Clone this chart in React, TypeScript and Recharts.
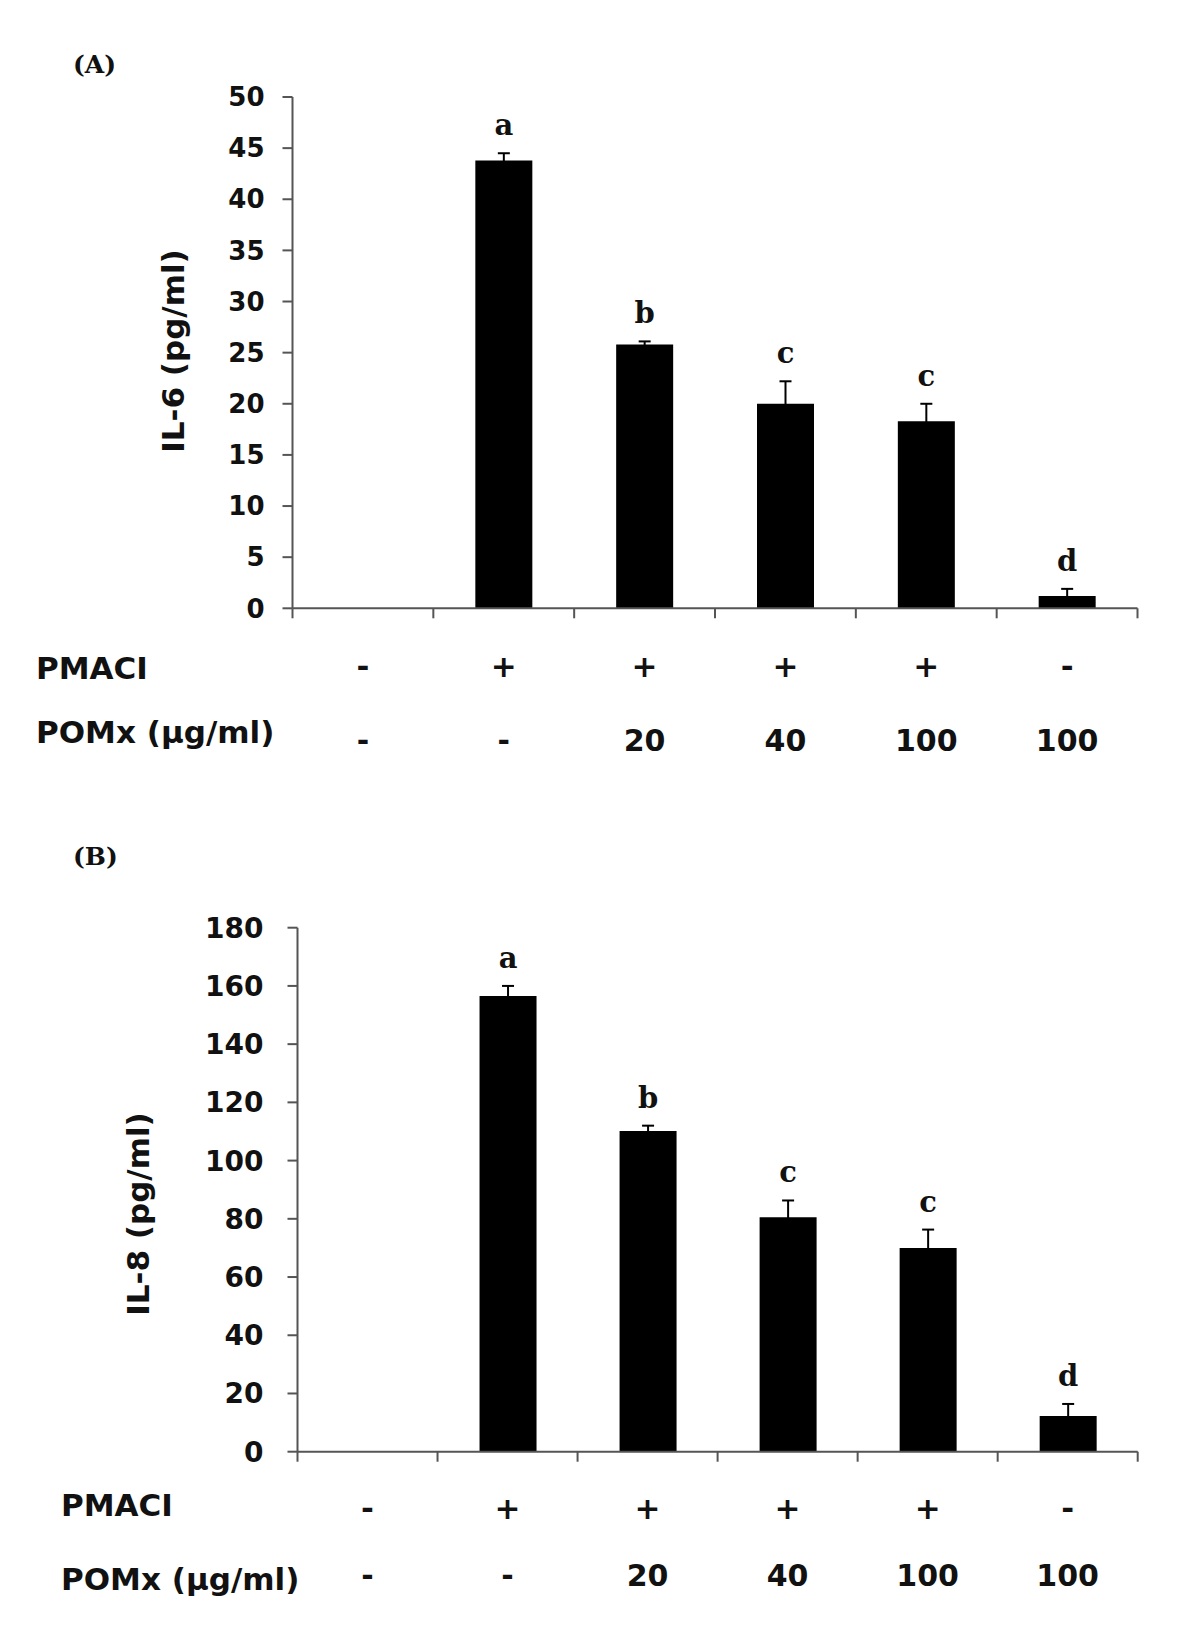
import React from "react"
import { BarChart, Bar, XAxis, YAxis, ErrorBar, LabelList } from "recharts"

// treatment groups (one bar each)
const groups = ["ctrl", "pmaci", "pomx20", "pomx40", "pomx100", "pomx100only"]
const pmaciRow = ["-", "+", "+", "+", "+", "-"]
const pomxRow = ["-", "-", "20", "40", "100", "100"]

// panel A: IL-6
const il6Mean = [null, 43.8, 25.8, 20.0, 18.3, 1.2]
const il6Err = [0, 0.7, 0.3, 2.2, 1.7, 0.7]
const il6Letters = ["", "a", "b", "c", "c", "d"]
const il6Ticks = [0, 5, 10, 15, 20, 25, 30, 35, 40, 45, 50]

// panel B: IL-8
const il8Mean = [null, 156.5, 110.2, 80.5, 70.0, 12.3]
const il8Err = [0, 3.5, 1.8, 5.8, 6.3, 4.1]
const il8Letters = ["", "a", "b", "c", "c", "d"]
const il8Ticks = [0, 20, 40, 60, 80, 100, 120, 140, 160, 180]

const SANS = "'DejaVu Sans', Arial, sans-serif"
const SERIF = "'DejaVu Serif', 'Liberation Serif', serif"
const AXIS = "#555"
const W = 1200
const Y_AXIS_W = 80
const X_AXIS_H = 160

function buildData(mean: (number | null)[], err: number[], letters: string[]) {
  return groups.map((g, i) => ({ group: g, mean: mean[i], err: err[i], letter: letters[i] }))
}

interface PanelProps {
  top: number
  height: number
  margin: { top: number; right: number; bottom: number; left: number }
  mean: (number | null)[]
  err: number[]
  letters: string[]
  ticks: number[]
  tickFont: number
  tickMargin: number
  rowDy: [number, number]
  tag: string
  tagPos: [number, number]
  yLabel: string
  yLabelPos: [number, number]
  rowLabelX: number
  rowLabelY: [number, number]
}

function Panel(p: PanelProps) {
  const data = buildData(p.mean, p.err, p.letters)
  const plotW = W - p.margin.left - Y_AXIS_W - p.margin.right
  const band = plotW / groups.length

  const renderTick = (t: any) => {
    const { x, y, index } = t
    const left = x - band / 2
    return (
      <g key={`t-${index}`}>
        <line x1={left} x2={left} y1={y} y2={y + 10} stroke={AXIS} strokeWidth={2} />
        {index === groups.length - 1 && (
          <line x1={left + band} x2={left + band} y1={y} y2={y + 10} stroke={AXIS} strokeWidth={2} />
        )}
        <text x={x} y={y + p.rowDy[0]} textAnchor="middle" fontFamily={SANS} fontWeight="bold" fontSize={31} fill="#111">
          {pmaciRow[index]}
        </text>
        <text x={x} y={y + p.rowDy[1]} textAnchor="middle" fontFamily={SANS} fontWeight="bold" fontSize={30} fill="#111">
          {pomxRow[index]}
        </text>
      </g>
    )
  }

  // label content gets the group key, so look the bar up by name
  const renderLetter = (l: any) => {
    const { x, y, width, height, value } = l
    const i = groups.indexOf(value)
    const v = p.mean[i]
    if (i < 0 || v == null || !v || !p.letters[i]) return null
    const errPx = (p.err[i] * Math.abs(height)) / v
    const top = Math.min(y, y + height)
    return (
      <text x={x + width / 2} y={top - errPx - 18} textAnchor="middle" fontFamily={SERIF} fontWeight="bold" fontSize={29} fill="#111">
        {p.letters[i]}
      </text>
    )
  }

  const yMax = p.ticks[p.ticks.length - 1]

  return (
    <div style={{ position: "absolute", left: 0, top: p.top, width: W, height: p.height }}>
      <BarChart width={W} height={p.height} data={data} margin={p.margin} barSize={57}>
        <XAxis
          dataKey="group"
          height={X_AXIS_H}
          axisLine={{ stroke: AXIS, strokeWidth: 2 }}
          tickLine={false}
          tickSize={0}
          tickMargin={0}
          interval={0}
          tick={renderTick}
        />
        <XAxis xAxisId="top" dataKey="group" orientation="top" height={0} tick={false} tickLine={false} axisLine={{ stroke: AXIS, strokeWidth: 2 }} />
        <YAxis
          domain={[0, yMax]}
          ticks={p.ticks}
          width={Y_AXIS_W}
          interval={0}
          axisLine={{ stroke: AXIS, strokeWidth: 2 }}
          tickLine={{ stroke: AXIS, strokeWidth: 2 }}
          tickSize={10}
          tickMargin={p.tickMargin}
          tick={{ fontFamily: SANS, fontWeight: "bold", fontSize: p.tickFont, fill: "#111" }}
        />
        <YAxis yAxisId="right" orientation="right" domain={[0, yMax]} width={0} tick={false} tickLine={false} axisLine={{ stroke: AXIS, strokeWidth: 2 }} />
        <Bar dataKey="mean" fill="#000" isAnimationActive={false}>
          <ErrorBar dataKey="err" direction="y" width={6} stroke="#000" strokeWidth={2} isAnimationActive={false} />
          <LabelList dataKey="group" content={renderLetter} />
        </Bar>
      </BarChart>

      <div style={{ position: "absolute", left: p.tagPos[0], top: p.tagPos[1], fontFamily: SERIF, fontWeight: "bold", fontSize: 25, lineHeight: 1, color: "#111" }}>
        {p.tag}
      </div>
      <div
        style={{
          position: "absolute",
          left: p.yLabelPos[0],
          top: p.yLabelPos[1],
          transform: "translate(-50%, -50%) rotate(-90deg)",
          whiteSpace: "nowrap",
          fontFamily: SANS,
          fontWeight: "bold",
          fontSize: 31,
          lineHeight: 1,
          color: "#111",
        }}
      >
        {p.yLabel}
      </div>
      <div style={{ position: "absolute", left: p.rowLabelX, top: p.rowLabelY[0], fontFamily: SANS, fontWeight: "bold", fontSize: 31, lineHeight: 1, color: "#111", whiteSpace: "nowrap" }}>
        PMACI
      </div>
      <div style={{ position: "absolute", left: p.rowLabelX, top: p.rowLabelY[1], fontFamily: SANS, fontWeight: "bold", fontSize: 31, lineHeight: 1, color: "#111", whiteSpace: "nowrap" }}>
        POMx (µg/ml)
      </div>
    </div>
  )
}

export default function App() {
  return (
    <div style={{ position: "absolute", left: 0, top: 0, width: 1200, height: 1627, background: "#fff" }}>
      <Panel
        top={0}
        height={800}
        margin={{ top: 97, right: 62.5, bottom: 31.7, left: 212.5 }}
        mean={il6Mean}
        err={il6Err}
        letters={il6Letters}
        ticks={il6Ticks}
        tickFont={26}
        tickMargin={18}
        rowDy={[69, 143]}
        tag="(A)"
        tagPos={[73, 52]}
        yLabel="IL-6 (pg/ml)"
        yLabelPos={[173, 351]}
        rowLabelX={36}
        rowLabelY={[653, 717]}
      />
      <Panel
        top={820}
        height={807}
        margin={{ top: 107.7, right: 62.3, bottom: 15.3, left: 217.5 }}
        mean={il8Mean}
        err={il8Err}
        letters={il8Letters}
        ticks={il8Ticks}
        tickFont={28}
        tickMargin={24}
        rowDy={[67, 134]}
        tag="(B)"
        tagPos={[73, 24]}
        yLabel="IL-8 (pg/ml)"
        yLabelPos={[138, 394]}
        rowLabelX={61}
        rowLabelY={[670, 744]}
      />
    </div>
  )
}
